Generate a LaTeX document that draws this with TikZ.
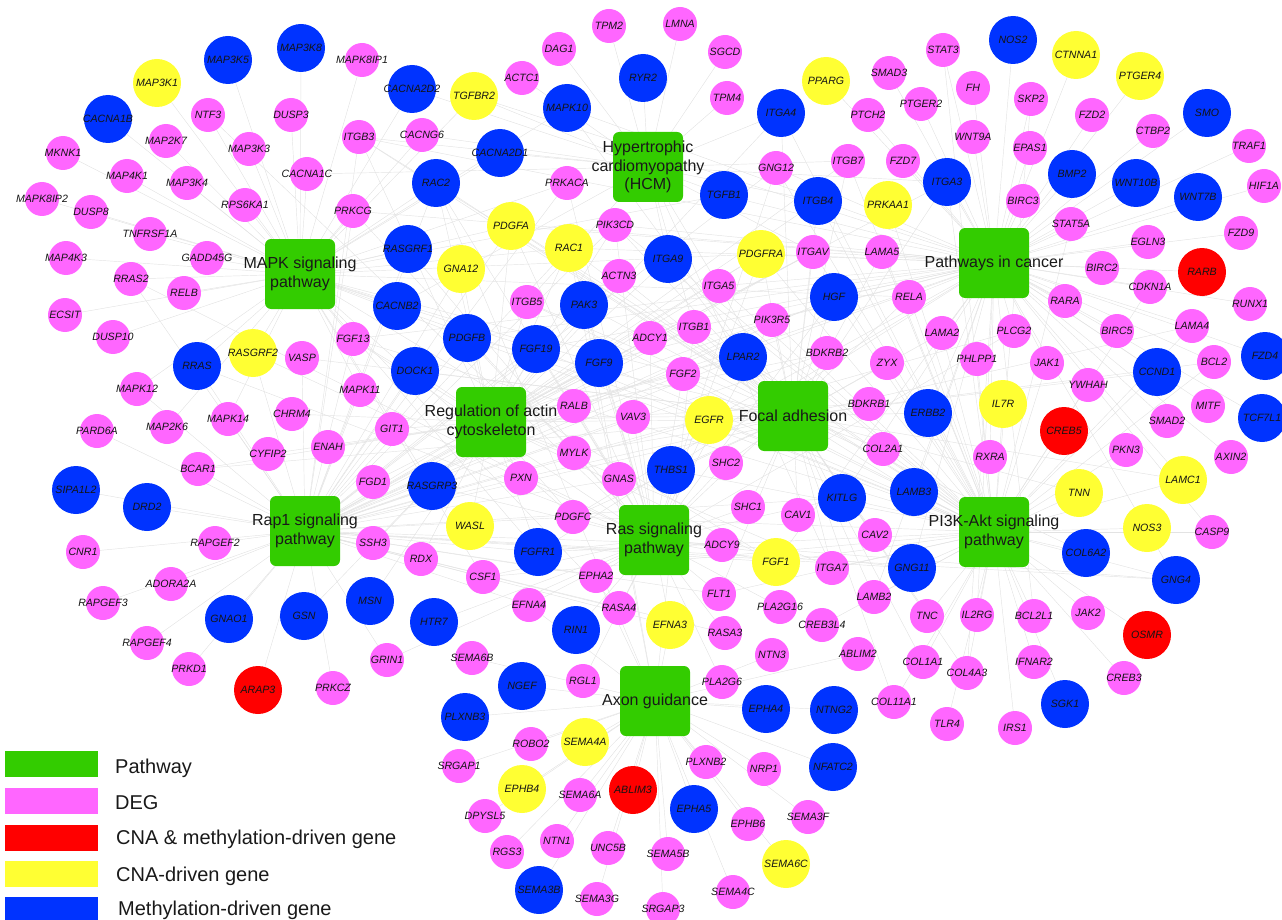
\documentclass[tikz,border=0pt]{standalone}
\usepackage{fontspec}
\setmainfont{Liberation Sans}
\usetikzlibrary{backgrounds}
\definecolor{pk}{RGB}{255,102,255}
\definecolor{bl}{RGB}{0,51,255}
\definecolor{yl}{RGB}{255,255,51}
\definecolor{rd}{RGB}{255,0,0}
\definecolor{gr}{RGB}{51,204,0}
\tikzset{
 gpink/.style={circle, fill=pk, minimum size=34pt, inner sep=0pt},
 gblue/.style={circle, fill=bl, minimum size=48pt, inner sep=0pt},
 gyel/.style={circle, fill=yl, minimum size=48pt, inner sep=0pt},
 gred/.style={circle, fill=rd, minimum size=48pt, inner sep=0pt},
 glab/.style={font=\fontsize{10.6}{12}\selectfont\itshape, inner sep=0pt, text=black!92},
 pwbox/.style={rectangle, rounded corners=6pt, fill=gr, minimum width=70pt, minimum height=70pt, inner sep=0pt},
 pwlab/.style={font=\fontsize{16}{18.5}\selectfont, align=center, inner sep=0pt, text=black!90},
 lnk/.style={draw=black!11, line width=0.45pt},
 lgbox/.style={rectangle, minimum width=93pt, minimum height=26pt, inner sep=0pt},
 lgtxt/.style={font=\fontsize{20}{24}\selectfont, inner sep=0pt, anchor=base west, text=black!90},
}
\newcommand\gene[4]{\node[#4] (#1) at (#2,#3) {}; \node[glab] (#1-t) at (#1) {#1};}
\newcommand\lk[2]{\foreach \pth in {#2}{\draw[lnk] (#1) -- (\pth);}}
\begin{document}
\begin{tikzpicture}[x=1pt,y=-1pt]
\useasboundingbox (0,0) rectangle (1282,920);
% pathways
\node[pwbox] (M) at (300,274) {};
\node[pwbox] (H) at (648,167) {};
\node[pwbox] (C) at (994,263) {};
\node[pwbox] (A) at (491,422) {};
\node[pwbox] (F) at (793,416) {};
\node[pwbox] (R) at (305,531) {};
\node[pwbox] (S) at (654,540) {};
\node[pwbox] (P) at (994,532) {};
\node[pwbox] (X) at (655,701) {};
% genes
\gene{MAP3K5}{228}{60}{gblue}
\gene{MAP3K8}{301}{48}{gblue}
\gene{MAP3K1}{157}{83}{gyel}
\gene{CACNA1B}{108}{119}{gblue}
\gene{NTF3}{208}{115}{gpink}
\gene{DUSP3}{291}{115}{gpink}
\gene{MAP2K7}{166}{141}{gpink}
\gene{MKNK1}{63}{153}{gpink}
\gene{MAP3K3}{249}{149}{gpink}
\gene{CACNA1C}{307}{174}{gpink}
\gene{MAP4K1}{127}{176}{gpink}
\gene{MAP3K4}{187}{183}{gpink}
\gene{MAPK8IP2}{42}{199}{gpink}
\gene{DUSP8}{91}{212}{gpink}
\gene{RPS6KA1}{245}{205}{gpink}
\gene{TNFRSF1A}{150}{234}{gpink}
\gene{MAP4K3}{66}{258}{gpink}
\gene{GADD45G}{207}{258}{gpink}
\gene{RRAS2}{131}{279}{gpink}
\gene{RELB}{184}{293}{gpink}
\gene{MAPK8IP1}{362}{60}{gpink}
\gene{CACNA2D2}{412}{89}{gblue}
\gene{TGFBR2}{474}{96}{gyel}
\gene{TPM2}{609}{26}{gpink}
\gene{DAG1}{559}{49}{gpink}
\gene{ACTC1}{522}{78}{gpink}
\gene{RYR2}{643}{78}{gblue}
\gene{MAPK10}{567}{108}{gblue}
\gene{ITGB3}{359}{137}{gpink}
\gene{CACNG6}{422}{135}{gpink}
\gene{CACNA2D1}{500}{153}{gblue}
\gene{RAC2}{436}{183}{gblue}
\gene{PRKACA}{567}{183}{gpink}
\gene{PRKCG}{353}{211}{gpink}
\gene{PDGFA}{511}{226}{gyel}
\gene{PIK3CD}{615}{225}{gpink}
\gene{RAC1}{569}{248}{gyel}
\gene{RASGRF1}{408}{249}{gblue}
\gene{GNA12}{461}{269}{gyel}
\gene{ACTN3}{619}{276}{gpink}
\gene{ITGB5}{527}{302}{gpink}
\gene{PAK3}{584}{305}{gblue}
\gene{CACNB2}{397}{306}{gblue}
\gene{LMNA}{680}{24}{gpink}
\gene{SGCD}{725}{52}{gpink}
\gene{TPM4}{727}{98}{gpink}
\gene{ITGA4}{781}{113}{gblue}
\gene{PPARG}{826}{81}{gyel}
\gene{SMAD3}{889}{73}{gpink}
\gene{STAT3}{943}{50}{gpink}
\gene{PTCH2}{868}{115}{gpink}
\gene{PTGER2}{921}{104}{gpink}
\gene{WNT9A}{973}{137}{gpink}
\gene{GNG12}{776}{168}{gpink}
\gene{ITGB7}{848}{161}{gpink}
\gene{FZD7}{903}{161}{gpink}
\gene{ITGA3}{947}{182}{gblue}
\gene{TGFB1}{724}{195}{gblue}
\gene{ITGB4}{818}{201}{gblue}
\gene{PRKAA1}{888}{205}{gyel}
\gene{ITGA9}{668}{259}{gblue}
\gene{PDGFRA}{761}{254}{gyel}
\gene{ITGAV}{813}{252}{gpink}
\gene{LAMA5}{882}{252}{gpink}
\gene{ITGA5}{719}{286}{gpink}
\gene{HGF}{834}{297}{gblue}
\gene{RELA}{909}{297}{gpink}
\gene{NOS2}{1013}{40}{gblue}
\gene{CTNNA1}{1076}{55}{gyel}
\gene{PTGER4}{1140}{76}{gyel}
\gene{FH}{973}{88}{gpink}
\gene{SKP2}{1031}{99}{gpink}
\gene{FZD2}{1092}{115}{gpink}
\gene{SMO}{1207}{113}{gblue}
\gene{CTBP2}{1153}{131}{gpink}
\gene{TRAF1}{1249}{146}{gpink}
\gene{EPAS1}{1030}{148}{gpink}
\gene{BMP2}{1072}{174}{gblue}
\gene{WNT10B}{1136}{183}{gblue}
\gene{WNT7B}{1198}{197}{gblue}
\gene{HIF1A}{1264}{186}{gpink}
\gene{BIRC3}{1023}{201}{gpink}
\gene{STAT5A}{1071}{224}{gpink}
\gene{FZD9}{1241}{233}{gpink}
\gene{EGLN3}{1148}{242}{gpink}
\gene{RARB}{1202}{272}{gred}
\gene{BIRC2}{1102}{268}{gpink}
\gene{CDKN1A}{1150}{287}{gpink}
\gene{RARA}{1065}{301}{gpink}
\gene{RUNX1}{1250}{304}{gpink}
\gene{ECSIT}{65}{315}{gpink}
\gene{DUSP10}{113}{337}{gpink}
\gene{RRAS}{197}{366}{gblue}
\gene{RASGRF2}{253}{353}{gyel}
\gene{VASP}{302}{358}{gpink}
\gene{MAPK12}{137}{389}{gpink}
\gene{MAP2K6}{167}{427}{gpink}
\gene{MAPK14}{228}{419}{gpink}
\gene{CHRM4}{292}{414}{gpink}
\gene{PARD6A}{97}{431}{gpink}
\gene{CYFIP2}{268}{454}{gpink}
\gene{ENAH}{328}{447}{gpink}
\gene{BCAR1}{198}{469}{gpink}
\gene{SIPA1L2}{76}{490}{gblue}
\gene{DRD2}{147}{507}{gblue}
\gene{RAPGEF2}{215}{543}{gpink}
\gene{CNR1}{83}{552}{gpink}
\gene{ADORA2A}{171}{584}{gpink}
\gene{RAPGEF3}{103}{603}{gpink}
\gene{FGF13}{353}{339}{gpink}
\gene{PDGFB}{467}{338}{gblue}
\gene{FGF19}{536}{349}{gblue}
\gene{FGF9}{599}{363}{gblue}
\gene{ADCY1}{650}{338}{gpink}
\gene{DOCK1}{415}{371}{gblue}
\gene{MAPK11}{360}{390}{gpink}
\gene{RALB}{574}{406}{gpink}
\gene{VAV3}{633}{417}{gpink}
\gene{GIT1}{392}{429}{gpink}
\gene{MYLK}{574}{453}{gpink}
\gene{FGD1}{373}{482}{gpink}
\gene{RASGRP3}{432}{486}{gblue}
\gene{PXN}{521}{478}{gpink}
\gene{GNAS}{619}{479}{gpink}
\gene{WASL}{470}{526}{gyel}
\gene{PDGFC}{573}{517}{gpink}
\gene{SSH3}{373}{543}{gpink}
\gene{RDX}{421}{559}{gpink}
\gene{FGFR1}{538}{552}{gblue}
\gene{CSF1}{483}{577}{gpink}
\gene{EPHA2}{596}{576}{gpink}
\gene{MSN}{370}{601}{gblue}
\gene{EFNA4}{529}{605}{gpink}
\gene{RASA4}{619}{608}{gpink}
\gene{ITGB1}{694}{327}{gpink}
\gene{PIK3R5}{772}{320}{gpink}
\gene{LAMA2}{942}{333}{gpink}
\gene{LPAR2}{743}{357}{gblue}
\gene{BDKRB2}{827}{353}{gpink}
\gene{ZYX}{887}{363}{gpink}
\gene{FGF2}{683}{374}{gpink}
\gene{PHLPP1}{977}{359}{gpink}
\gene{BDKRB1}{869}{404}{gpink}
\gene{ERBB2}{928}{413}{gblue}
\gene{EGFR}{709}{420}{gyel}
\gene{COL2A1}{883}{449}{gpink}
\gene{THBS1}{671}{470}{gblue}
\gene{SHC2}{726}{463}{gpink}
\gene{KITLG}{842}{498}{gblue}
\gene{LAMB3}{914}{492}{gblue}
\gene{SHC1}{748}{507}{gpink}
\gene{CAV1}{798}{515}{gpink}
\gene{CAV2}{875}{535}{gpink}
\gene{ADCY9}{722}{545}{gpink}
\gene{FGF1}{776}{562}{gyel}
\gene{ITGA7}{832}{568}{gpink}
\gene{GNG11}{912}{568}{gblue}
\gene{FLT1}{719}{594}{gpink}
\gene{LAMB2}{874}{597}{gpink}
\gene{PLA2G16}{780}{607}{gpink}
\gene{PLCG2}{1014}{331}{gpink}
\gene{BIRC5}{1117}{331}{gpink}
\gene{LAMA4}{1192}{326}{gpink}
\gene{JAK1}{1047}{363}{gpink}
\gene{CCND1}{1157}{372}{gblue}
\gene{BCL2}{1214}{362}{gpink}
\gene{FZD4}{1265}{356}{gblue}
\gene{YWHAH}{1088}{385}{gpink}
\gene{IL7R}{1003}{404}{gyel}
\gene{MITF}{1208}{406}{gpink}
\gene{CREB5}{1064}{431}{gred}
\gene{SMAD2}{1167}{421}{gpink}
\gene{TCF7L1}{1262}{418}{gblue}
\gene{RXRA}{990}{457}{gpink}
\gene{PKN3}{1126}{450}{gpink}
\gene{AXIN2}{1231}{457}{gpink}
\gene{LAMC1}{1183}{480}{gyel}
\gene{TNN}{1079}{493}{gyel}
\gene{NOS3}{1147}{528}{gyel}
\gene{CASP9}{1212}{532}{gpink}
\gene{COL6A2}{1086}{553}{gblue}
\gene{GNG4}{1176}{580}{gblue}
\gene{GNAO1}{229}{619}{gblue}
\gene{GSN}{304}{616}{gblue}
\gene{RAPGEF4}{147}{643}{gpink}
\gene{PRKD1}{189}{669}{gpink}
\gene{ARAP3}{258}{690}{gred}
\gene{HTR7}{434}{622}{gblue}
\gene{RIN1}{576}{630}{gblue}
\gene{GRIN1}{387}{660}{gpink}
\gene{PRKCZ}{333}{688}{gpink}
\gene{SEMA6B}{472}{658}{gpink}
\gene{NGEF}{522}{686}{gblue}
\gene{RGL1}{583}{681}{gpink}
\gene{PLXNB3}{465}{717}{gblue}
\gene{ROBO2}{531}{744}{gpink}
\gene{SEMA4A}{585}{742}{gyel}
\gene{SRGAP1}{459}{766}{gpink}
\gene{EPHB4}{522}{789}{gyel}
\gene{SEMA6A}{580}{795}{gpink}
\gene{ABLIM3}{633}{790}{gred}
\gene{DPYSL5}{485}{816}{gpink}
\gene{NTN1}{557}{841}{gpink}
\gene{RGS3}{507}{852}{gpink}
\gene{UNC5B}{608}{848}{gpink}
\gene{SEMA3B}{539}{890}{gblue}
\gene{SEMA3G}{597}{899}{gpink}
\gene{EFNA3}{670}{625}{gyel}
\gene{RASA3}{725}{633}{gpink}
\gene{CREB3L4}{822}{625}{gpink}
\gene{TNC}{927}{616}{gpink}
\gene{IL2RG}{977}{615}{gpink}
\gene{NTN3}{772}{655}{gpink}
\gene{ABLIM2}{858}{654}{gpink}
\gene{COL1A1}{923}{662}{gpink}
\gene{COL4A3}{967}{673}{gpink}
\gene{PLA2G6}{722}{682}{gpink}
\gene{EPHA4}{766}{709}{gblue}
\gene{NTNG2}{834}{710}{gblue}
\gene{COL11A1}{894}{702}{gpink}
\gene{TLR4}{947}{724}{gpink}
\gene{PLXNB2}{706}{762}{gpink}
\gene{NRP1}{764}{769}{gpink}
\gene{NFATC2}{833}{767}{gblue}
\gene{EPHA5}{694}{809}{gblue}
\gene{EPHB6}{748}{824}{gpink}
\gene{SEMA3F}{808}{817}{gpink}
\gene{SEMA5B}{668}{854}{gpink}
\gene{SEMA6C}{786}{864}{gyel}
\gene{SEMA4C}{733}{892}{gpink}
\gene{SRGAP3}{663}{909}{gpink}
\gene{BCL2L1}{1034}{616}{gpink}
\gene{JAK2}{1088}{613}{gpink}
\gene{OSMR}{1147}{635}{gred}
\gene{IFNAR2}{1034}{662}{gpink}
\gene{CREB3}{1124}{678}{gpink}
\gene{SGK1}{1065}{704}{gblue}
\gene{IRS1}{1015}{728}{gpink}
% pathway labels
\node[pwlab] (M-t) at (M) {MAPK signaling\\pathway};
\node[pwlab] (H-t) at (H) {Hypertrophic\\cardiomyopathy\\(HCM)};
\node[pwlab] (C-t) at (C) {Pathways in cancer};
\node[pwlab] (A-t) at (A) {Regulation of actin\\cytoskeleton};
\node[pwlab] (F-t) at (F) {Focal adhesion};
\node[pwlab] (R-t) at (R) {Rap1 signaling\\pathway};
\node[pwlab] (S-t) at (S) {Ras signaling\\pathway};
\node[pwlab] (P-t) at (P) {PI3K-Akt signaling\\pathway};
\node[pwlab] (X-t) at (X) {Axon guidance};
% legend
\node[lgbox, fill=gr] (lg1) at (51.5,764) {};
\node[lgbox, fill=pk] (lg2) at (51.5,800.5) {};
\node[lgbox, fill=rd] (lg3) at (51.5,837.5) {};
\node[lgbox, fill=yl] (lg4) at (51.5,874) {};
\node[lgbox, fill=bl] (lg5) at (51.5,910) {};
\node[lgtxt] (lt1) at (115,773) {Pathway};
\node[lgtxt] (lt2) at (115,809) {DEG};
\node[lgtxt] (lt3) at (116,844) {CNA \& methylation-driven gene};
\node[lgtxt] (lt4) at (116,881) {CNA-driven gene};
\node[lgtxt] (lt5) at (118,915) {Methylation-driven gene};
% links
\begin{scope}[on background layer]
\lk{MAP3K5}{M}\lk{MAP3K8}{M}\lk{MAP3K1}{M}\lk{CACNA1B}{M}\lk{NTF3}{M,S}
\lk{DUSP3}{M}\lk{MKNK1}{M}\lk{MAP2K7}{M}\lk{MAP3K3}{M}\lk{CACNA1C}{M,H}
\lk{MAP4K1}{M}\lk{MAP3K4}{M}\lk{MAPK8IP2}{M}\lk{DUSP8}{M}\lk{RPS6KA1}{M}
\lk{TNFRSF1A}{M}\lk{MAP4K3}{M}\lk{GADD45G}{M}\lk{RRAS2}{M,R,S}\lk{RELB}{M}
\lk{ECSIT}{M}\lk{DUSP10}{M}\lk{RRAS}{M,R,S}\lk{RASGRF2}{M,R,S}\lk{VASP}{R,F}
\lk{MAPK12}{M,R}\lk{MAP2K6}{M}\lk{MAPK14}{M,R}\lk{CHRM4}{A}\lk{PARD6A}{R}
\lk{CYFIP2}{A}\lk{ENAH}{A}\lk{BCAR1}{A,F,R}\lk{SIPA1L2}{R}\lk{DRD2}{R}
\lk{RAPGEF2}{R}\lk{CNR1}{R}\lk{ADORA2A}{R}\lk{RAPGEF3}{R}\lk{RAPGEF4}{R}
\lk{GNAO1}{R}\lk{PRKD1}{R}\lk{ARAP3}{R}\lk{GSN}{A}\lk{MSN}{A}\lk{PRKCZ}{R}
\lk{GRIN1}{R,S}\lk{HTR7}{S}
\lk{MAPK8IP1}{M}\lk{CACNA2D2}{M,H}\lk{TGFBR2}{M,H,C}\lk{ACTC1}{H}\lk{DAG1}{H}
\lk{TPM2}{H}\lk{LMNA}{H}\lk{SGCD}{H}\lk{TPM4}{H}\lk{RYR2}{H}\lk{MAPK10}{M,F,C}
\lk{ITGB3}{H,F,A,P,R,C}\lk{CACNG6}{M,H}\lk{CACNA2D1}{M,H}\lk{RAC2}{M,A,R,S,F,X}
\lk{PRKACA}{M,S,R}\lk{PRKCG}{M,R,S,C}\lk{PDGFA}{M,R,S,P,F,A,C}\lk{PIK3CD}{F,A,R,S,P,C}
\lk{RAC1}{M,A,R,S,F,X,C}\lk{RASGRF1}{M,S,R}\lk{GNA12}{A,R}\lk{ACTN3}{F,A}
\lk{ITGB5}{H,F,A,P}\lk{PAK3}{S,R,A,X,F}\lk{CACNB2}{M,H}
\lk{ITGA4}{H,F,A,P}\lk{PPARG}{C}\lk{SMAD3}{C}\lk{STAT3}{C,P}\lk{PTCH2}{C}
\lk{PTGER2}{C}\lk{WNT9A}{C}\lk{GNG12}{C,P,R,S}\lk{ITGB7}{H,F,A,P}\lk{FZD7}{C}
\lk{ITGA3}{H,F,A,P,C}\lk{TGFB1}{H,M,C}\lk{ITGB4}{F,A,P,H}\lk{PRKAA1}{P}
\lk{ITGA9}{H,F,A,P}\lk{PDGFRA}{M,F,A,P,R,S,C}\lk{ITGAV}{H,F,A,P,C,R}
\lk{LAMA5}{F,P,C}\lk{ITGA5}{H,F,A,P,C}\lk{HGF}{F,P,R,S,C}\lk{RELA}{M,S,P,C}
\lk{NOS2}{C}\lk{CTNNA1}{C}\lk{PTGER4}{C}\lk{FH}{C}\lk{SKP2}{C,P}\lk{FZD2}{C}
\lk{SMO}{C}\lk{CTBP2}{C}\lk{TRAF1}{C}\lk{EPAS1}{C}\lk{BMP2}{C}\lk{WNT10B}{C}
\lk{WNT7B}{C}\lk{HIF1A}{C}\lk{BIRC3}{C}\lk{STAT5A}{C,P}\lk{FZD9}{C}\lk{EGLN3}{C}
\lk{RARB}{C}\lk{BIRC2}{C}\lk{CDKN1A}{C,P}\lk{RARA}{C}\lk{RUNX1}{C}
\lk{LAMA4}{F,P,C}\lk{BCL2}{F,P,C}\lk{FZD4}{C}\lk{PLCG2}{C,R,S}\lk{BIRC5}{C}
\lk{JAK1}{C,P}\lk{CCND1}{F,P,C}\lk{YWHAH}{P}\lk{MITF}{C}\lk{SMAD2}{C}
\lk{TCF7L1}{C}\lk{AXIN2}{C}\lk{PKN3}{P}\lk{PHLPP1}{P}\lk{IL7R}{P}\lk{CREB5}{P}
\lk{RXRA}{C}\lk{LAMC1}{F,P,C}\lk{TNN}{F,P}\lk{NOS3}{P}\lk{CASP9}{C,P}
\lk{COL6A2}{F,P}\lk{GNG4}{P,C,R,S}
\lk{ITGB1}{H,F,A,P,R,C,X}\lk{PIK3R5}{A,F,P,R,S,C}\lk{LAMA2}{F,P,C}\lk{LPAR2}{P,R,A}
\lk{BDKRB2}{A,R}\lk{ZYX}{F}\lk{ADCY1}{S,R}\lk{FGF2}{M,A,R,S,P,C}\lk{BDKRB1}{A,R}
\lk{ERBB2}{F,P,C}\lk{EGFR}{M,A,F,R,S,P,C}\lk{COL2A1}{F,P}\lk{THBS1}{F,P}
\lk{SHC2}{F,S}\lk{KITLG}{R,S,P,C}\lk{LAMB3}{F,P,C}\lk{SHC1}{F,S}\lk{CAV1}{F}
\lk{CAV2}{F}\lk{ADCY9}{S,R}\lk{FGF1}{M,A,R,S,P,C}\lk{ITGA7}{H,F,A,P}
\lk{GNG11}{P,R,S,C}\lk{FLT1}{F,R,S,P}\lk{PLA2G16}{S}\lk{LAMB2}{F,P,C}
\lk{TNC}{F,P}\lk{IL2RG}{P,C}\lk{BCL2L1}{P,C}\lk{JAK2}{P}\lk{OSMR}{P}
\lk{CREB3}{P}\lk{CREB3L4}{P}\lk{RASA3}{S,R}\lk{EFNA3}{S,R,X}\lk{NTN3}{X}
\lk{ABLIM2}{X}\lk{COL1A1}{F,P}\lk{COL4A3}{F,P,C}\lk{TLR4}{P}\lk{COL11A1}{F,P}
\lk{IFNAR2}{P}\lk{IRS1}{P}\lk{SGK1}{P}
\lk{FGF13}{M,A,R,S,P,C}\lk{PDGFB}{M,A,F,R,S,P,C}\lk{FGF19}{M,A,R,S,P,C}
\lk{FGF9}{M,A,R,S,P,C}\lk{DOCK1}{F,A,R}\lk{MAPK11}{M,R}\lk{GIT1}{A}
\lk{RALB}{S,R,C}\lk{VAV3}{A,F,R,S}\lk{MYLK}{A,F}\lk{FGD1}{A}\lk{RASGRP3}{M,S,R}
\lk{PXN}{A,F,R}\lk{GNAS}{R}\lk{WASL}{A}\lk{PDGFC}{F,P,R,S,A,C,M}\lk{SSH3}{A}
\lk{RDX}{A}\lk{FGFR1}{M,A,R,S,P,C}\lk{CSF1}{R,S,P,M}\lk{EPHA2}{S,R,X}
\lk{EFNA4}{S,R,X}\lk{RASA4}{S,R,M}\lk{RIN1}{S}
\lk{SEMA6B}{X}\lk{NGEF}{X}\lk{RGL1}{S}\lk{PLXNB3}{X}\lk{ROBO2}{X}\lk{SEMA4A}{X}
\lk{SRGAP1}{X}\lk{EPHB4}{X}\lk{SEMA6A}{X}\lk{ABLIM3}{X}\lk{DPYSL5}{X}\lk{NTN1}{X}
\lk{RGS3}{X}\lk{UNC5B}{X}\lk{SEMA3B}{X}\lk{SEMA3G}{X}\lk{SRGAP3}{X}\lk{SEMA5B}{X}
\lk{SEMA4C}{X}\lk{SEMA6C}{X}\lk{EPHB6}{X}\lk{SEMA3F}{X}\lk{EPHA5}{X}\lk{PLXNB2}{X}
\lk{NRP1}{X}\lk{NFATC2}{X}\lk{EPHA4}{X}\lk{NTNG2}{X}\lk{PLA2G6}{S}
\end{scope}
\end{tikzpicture}
\end{document}
